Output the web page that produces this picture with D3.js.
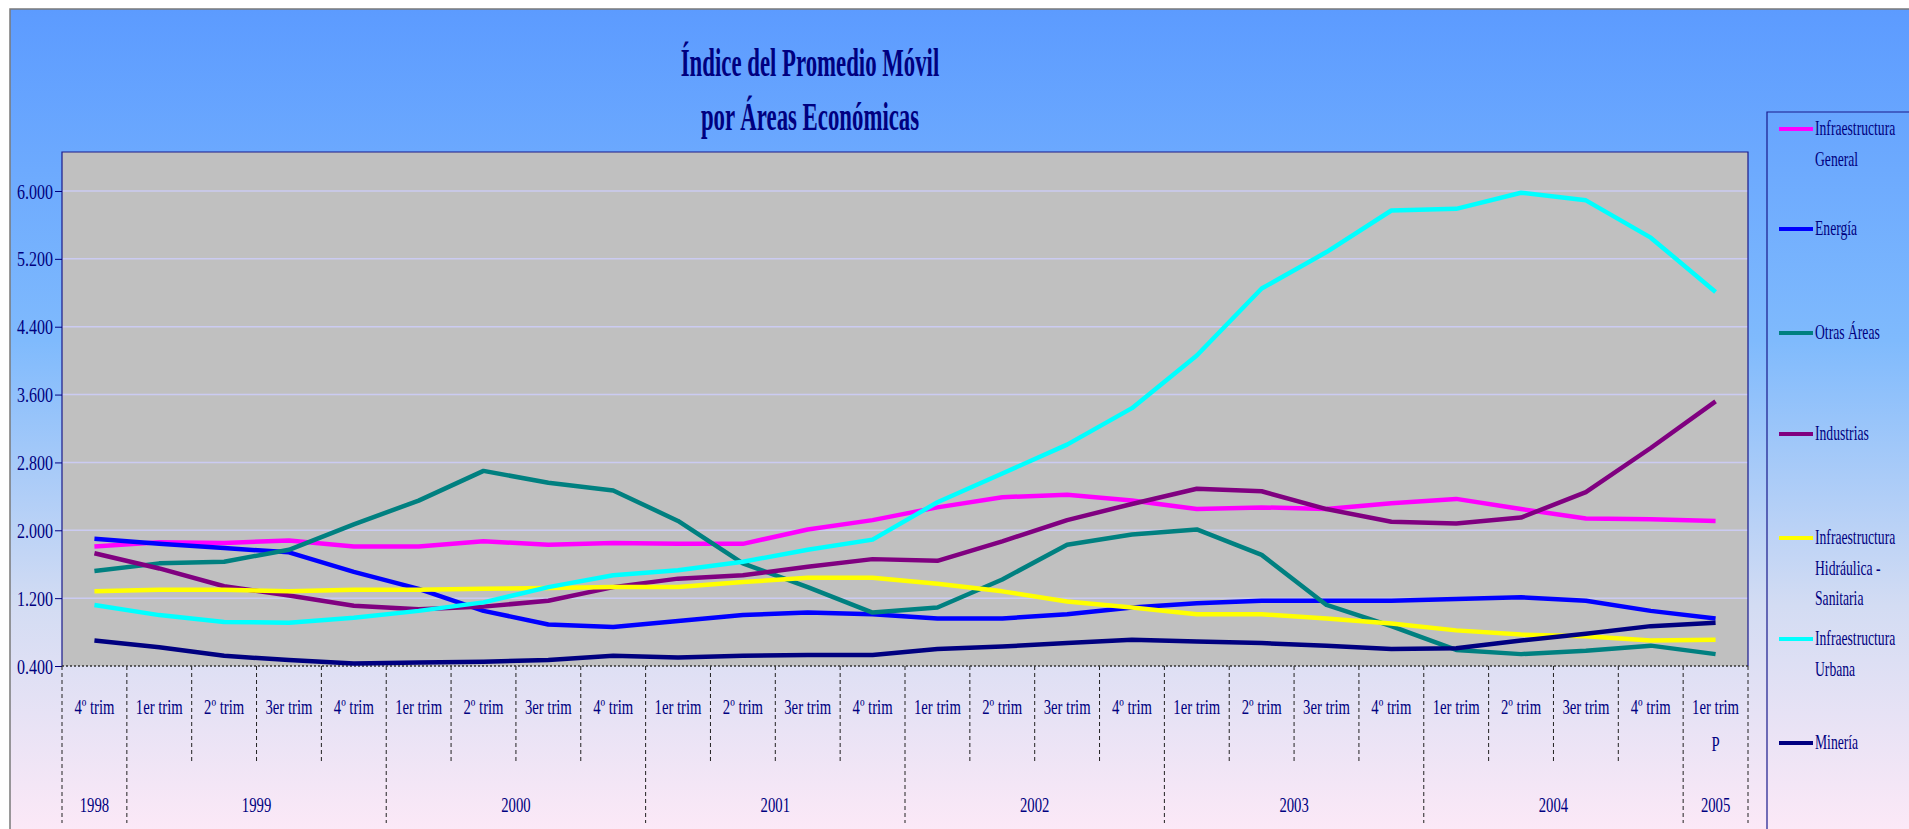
<!DOCTYPE html>
<html>
<head>
<meta charset="utf-8">
<script src="https://cdn.jsdelivr.net/npm/d3@7"></script>
<style>
    body { margin: 0; background: #ffffff; }
    svg text { font-family: "Liberation Serif", "Times New Roman", serif; fill: #000080; }
</style>
</head>
<body>
<div id="chart"></div>
<script>
var categories = ["4º trim", "1er trim", "2º trim", "3er trim", "4º trim",
    "1er trim", "2º trim", "3er trim", "4º trim",
    "1er trim", "2º trim", "3er trim", "4º trim",
    "1er trim", "2º trim", "3er trim", "4º trim",
    "1er trim", "2º trim", "3er trim", "4º trim",
    "1er trim", "2º trim", "3er trim", "4º trim",
    "1er trim"];
var yearLabels = ["1998", "1999", "2000", "2001", "2002", "2003", "2004", "2005"];
var yearSpans = [1, 4, 4, 4, 4, 4, 4, 1];
var yTicks = [0.4, 1.2, 2.0, 2.8, 3.6, 4.4, 5.2, 6.0];

var seriesNames = [
    ["Infraestructura", "General"],
    ["Energía"],
    ["Otras Áreas"],
    ["Industrias"],
    ["Infraestructura", "Hidráulica -", "Sanitaria"],
    ["Infraestructura", "Urbana"],
    ["Minería"]
];

var infraGeneral = [1.81, 1.86, 1.85, 1.88, 1.81, 1.81, 1.87, 1.83, 1.85, 1.84, 1.84, 2.01, 2.12,
    2.27, 2.39, 2.42, 2.35, 2.25, 2.27, 2.25, 2.32, 2.37, 2.25, 2.14, 2.13, 2.11];
var energia = [1.90, 1.84, 1.79, 1.74, 1.51, 1.31, 1.05, 0.89, 0.86, 0.93, 1.00, 1.03, 1.01,
    0.96, 0.96, 1.01, 1.09, 1.14, 1.17, 1.17, 1.17, 1.19, 1.21, 1.17, 1.05, 0.96];
var otrasAreas = [1.52, 1.61, 1.63, 1.77, 2.07, 2.35, 2.70, 2.56, 2.47, 2.11, 1.61, 1.33, 1.03,
    1.09, 1.42, 1.83, 1.95, 2.01, 1.71, 1.12, 0.87, 0.59, 0.54, 0.58, 0.64, 0.54];
var industrias = [1.73, 1.55, 1.34, 1.23, 1.11, 1.07, 1.10, 1.17, 1.33, 1.43, 1.47, 1.57, 1.66,
    1.64, 1.87, 2.12, 2.31, 2.49, 2.46, 2.25, 2.10, 2.08, 2.15, 2.45, 2.97, 3.52];
var hidraulica = [1.28, 1.30, 1.30, 1.28, 1.30, 1.30, 1.31, 1.32, 1.33, 1.33, 1.39, 1.44, 1.44,
    1.37, 1.28, 1.16, 1.09, 1.01, 1.01, 0.96, 0.90, 0.82, 0.77, 0.75, 0.70, 0.71];
var urbana = [1.12, 1.00, 0.92, 0.91, 0.97, 1.05, 1.15, 1.33, 1.47, 1.53, 1.63, 1.77, 1.89,
    2.33, 2.67, 3.01, 3.44, 4.06, 4.85, 5.28, 5.77, 5.79, 5.98, 5.89, 5.45, 4.81];
var mineria = [0.70, 0.62, 0.52, 0.47, 0.43, 0.44, 0.45, 0.47, 0.52, 0.50, 0.52, 0.53, 0.53,
    0.60, 0.63, 0.67, 0.71, 0.69, 0.67, 0.64, 0.60, 0.61, 0.70, 0.78, 0.87, 0.91];

var seriesValues = [infraGeneral, energia, otrasAreas, industrias, hidraulica, urbana, mineria];
var seriesColors = ["#ff00ff", "#0000ff", "#008080", "#800080", "#ffff00", "#00ffff", "#000080"];

var width = 1909, height = 829;
var plot = { left: 62, right: 1748, top: 152, bottom: 666 };

var svg = d3.select("#chart")
    .append("svg")
    .attr("width", width)
    .attr("height", height);

// background gradient of the chart area
var grad = svg.append("defs")
    .append("linearGradient")
    .attr("id", "bg")
    .attr("x1", 0).attr("y1", 0).attr("x2", 0).attr("y2", 1);
grad.append("stop").attr("offset", "0%").attr("stop-color", "#5c9bff");
grad.append("stop").attr("offset", "40%").attr("stop-color", "#7fbafd");
grad.append("stop").attr("offset", "72%").attr("stop-color", "#d3dcf3");
grad.append("stop").attr("offset", "100%").attr("stop-color", "#fde9f7");

svg.append("rect")
    .attr("x", 10).attr("y", 9)
    .attr("width", width).attr("height", height)
    .attr("fill", "url(#bg)")
    .attr("stroke", "#7a7a7a")
    .attr("stroke-width", 1.5);

function addText(parent, x, y, str, size, sx, anchor, weight) {
    return parent.append("text")
        .attr("transform", "translate(" + x + "," + y + ") scale(" + sx + ",1)")
        .attr("text-anchor", anchor || "middle")
        .style("font-size", size + "px")
        .style("font-weight", weight || "normal")
        .text(str);
}

// title
addText(svg, 810, 76, "Índice del Promedio Móvil", 40, 0.57, "middle", "bold");
addText(svg, 810, 130, "por Áreas Económicas", 40, 0.57, "middle", "bold");

var x = d3.scaleBand()
    .domain(d3.range(categories.length))
    .range([plot.left, plot.right]);

var y = d3.scaleLinear()
    .domain([0.4, 6.0])
    .range([plot.bottom, 191]);

// plot area
svg.append("rect")
    .attr("x", plot.left).attr("y", plot.top)
    .attr("width", plot.right - plot.left)
    .attr("height", plot.bottom - plot.top)
    .attr("fill", "#c0c0c0");

svg.append("g")
    .selectAll("line")
    .data(yTicks.slice(1))
    .enter()
    .append("line")
    .attr("x1", plot.left).attr("x2", plot.right)
    .attr("y1", function (d) { return y(d); })
    .attr("y2", function (d) { return y(d); })
    .attr("stroke", "#cbcbf2")
    .attr("stroke-width", 1.5);

svg.append("path")
    .attr("d", "M" + plot.left + "," + plot.bottom + "V" + plot.top + "H" + plot.right + "V" + plot.bottom)
    .attr("fill", "none")
    .attr("stroke", "#1a1a8c")
    .attr("stroke-width", 1.2);

// y axis
var yAxis = svg.append("g")
    .attr("transform", "translate(" + plot.left + ",0)")
    .call(d3.axisLeft(y).tickValues(yTicks).tickFormat(d3.format(".3f")).tickSize(7));
yAxis.select(".domain").remove();
yAxis.selectAll("line").attr("stroke", "#000080");
yAxis.selectAll("text")
    .attr("x", null).attr("dy", null)
    .attr("transform", "translate(-9,7) scale(0.8,1)")
    .style("font-size", "20px")
    .style("font-family", "'Liberation Serif', serif")
    .attr("fill", "#000080");

// category separators
var boundaries = d3.range(categories.length + 1);
var yearStarts = [0];
yearSpans.forEach(function (s, i) { yearStarts.push(yearStarts[i] + s); });

function bx(i) {
    return i < categories.length ? x(i) : plot.right;
}

svg.append("g")
    .selectAll("line")
    .data(boundaries)
    .enter()
    .append("line")
    .attr("x1", function (d) { return bx(d); })
    .attr("x2", function (d) { return bx(d); })
    .attr("y1", plot.bottom)
    .attr("y2", function (d) { return yearStarts.indexOf(d) >= 0 ? 823 : 763; })
    .attr("stroke", "#222")
    .attr("stroke-width", 1)
    .attr("stroke-dasharray", "4,3");

svg.append("line")
    .attr("x1", plot.left).attr("x2", plot.right)
    .attr("y1", plot.bottom).attr("y2", plot.bottom)
    .attr("stroke", "#333")
    .attr("stroke-width", 1.5)
    .attr("stroke-dasharray", "2,2");

// category labels
var labels = svg.append("g");
categories.forEach(function (c, i) {
    addText(labels, x(i) + x.bandwidth() / 2, 714, c, 21, 0.7);
});
addText(labels, x(categories.length - 1) + x.bandwidth() / 2, 751, "P", 21, 0.7);

yearLabels.forEach(function (yl, i) {
    var cx = (bx(yearStarts[i]) + bx(yearStarts[i + 1])) / 2;
    addText(labels, cx, 812, yl, 21, 0.7);
});

// series lines
var line = d3.line()
    .x(function (d, i) { return x(i) + x.bandwidth() / 2; })
    .y(function (d) { return y(d); });

svg.append("g")
    .selectAll("path")
    .data(seriesValues)
    .enter()
    .append("path")
    .attr("d", line)
    .attr("fill", "none")
    .attr("stroke", function (d, i) { return seriesColors[i]; })
    .attr("stroke-width", 4.5)
    .attr("stroke-linejoin", "round");

// legend
var legendY = [129, 229, 333, 434, 538, 639, 743];
var legend = svg.append("g");
legend.append("path")
    .attr("d", "M1767," + height + "V112H" + width)
    .attr("fill", "none")
    .attr("stroke", "#1a1a8c")
    .attr("stroke-width", 1.2);

seriesNames.forEach(function (names, i) {
    legend.append("line")
        .attr("x1", 1779).attr("x2", 1813)
        .attr("y1", legendY[i]).attr("y2", legendY[i])
        .attr("stroke", seriesColors[i])
        .attr("stroke-width", 4);
    names.forEach(function (n, j) {
        addText(legend, 1815, legendY[i] + 6 + j * 30.5, n, 22, 0.62, "start");
    });
});
</script>
</body>
</html>
